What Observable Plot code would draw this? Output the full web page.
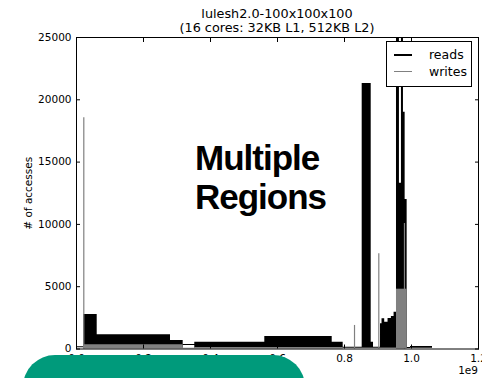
<!DOCTYPE html>
<html>
<head>
<meta charset="utf-8">
<script src="https://cdn.jsdelivr.net/npm/d3@7"></script>
<script src="https://cdn.jsdelivr.net/npm/@observablehq/plot@0.6"></script>
<style>
  html, body { margin: 0; padding: 0; background: #fff; }
  #chart { position: relative; width: 482px; height: 378px; overflow: hidden; font-family: "DejaVu Sans", sans-serif; color: #000; }
  #chart svg { position: absolute; left: 0; top: 0; }
  .title { position: absolute; left: 76px; width: 402px; top: 7px; text-align: center; font-size: 12.8px; line-height: 14px; white-space: nowrap; }
  .legend { position: absolute; left: 386px; top: 41px; width: 84px; height: 44px; border: 1px solid #000; background: #fff; }
  .legend .sw { position: absolute; left: 7px; width: 18px; }
  .legend .lab { position: absolute; left: 42px; font-size: 12.5px; line-height: 15px; white-space: nowrap; }
  .offset { position: absolute; right: 4px; top: 363px; font-size: 10.5px; line-height: 14px; }
  .note { position: absolute; left: 195px; font-family: "Liberation Sans", Arial, sans-serif; font-weight: bold; font-size: 35px; line-height: 35px; letter-spacing: -1px; white-space: nowrap; }
  .badge { position: absolute; left: 23px; top: 355px; width: 282px; height: 70px; border-radius: 32px; background: #009a7b; }
</style>
</head>
<body>
<div id="chart">
  <div class="title">lulesh2.0-100x100x100<br>(16 cores: 32KB L1, 512KB L2)</div>
</div>
<script>
// Access counts over time (x in units of 1e9 cycles). Dense oscillating
// traces are summarised as bands: [start, end) with a low and high count.
const readStart = [0.000, 0.0218, 0.0618, 0.2806, 0.3185, 0.3531, 0.5621, 0.7633, 0.7961, 0.8528, 0.8797, 0.8866,
                   0.9075, 0.9120, 0.9200, 0.9300, 0.9400, 0.9480, 0.9552, 0.9640, 0.9700, 0.9760, 0.9810, 0.9870, 0.9970];
const readEnd   = [0.0218, 0.0618, 0.2806, 0.3185, 0.3531, 0.5621, 0.7633, 0.7961, 0.8528, 0.8797, 0.8866, 0.9075,
                   0.9120, 0.9200, 0.9300, 0.9400, 0.9480, 0.9552, 0.9640, 0.9700, 0.9760, 0.9810, 0.9870, 0.9970, 1.0627];
const readLow   = [100, 60, 60, 60, 290, 60, 60, 60, 60, 60, 60, 60,
                   60, 60, 60, 60, 60, 60, 60, 60, 60, 60, 60, 40, 60];
const readHigh  = [180, 2770, 1140, 680, 370, 550, 1000, 550, 140, 21300, 550, 140,
                   2020, 2420, 2150, 2450, 2600, 2950, 25000, 13300, 25000, 19000, 12000, 120, 200];

const writeStart = [0.0218, 0.3185, 0.3531, 0.9552];
const writeEnd   = [0.3185, 0.3531, 0.7961, 0.9870];
const writeLow   = [0, 0, 0, 0];
const writeHigh  = [340, 60, 120, 4800];

// Isolated write bursts
const writeSpikeAt  = [0.0218, 0.8299, 0.9024, 0.9790];
const writeSpikeTop = [18550, 1890, 7640, 10070];

const xTicks = [0, 0.2, 0.4, 0.6, 0.8, 1.0, 1.2];
const yTicks = [0, 5000, 10000, 15000, 20000, 25000];

// Turn band segments into step-after area points; contiguous segments share
// one path (no seams), and a gap starts a new run.
function bandPoints(starts, ends, lows, highs) {
  const pts = [];
  let run = 0;
  starts.forEach((s, i) => {
    if (i > 0 && s !== ends[i - 1]) {
      pts.push({x: ends[i - 1], y1: lows[i - 1], y2: highs[i - 1], run});
      run++;
    }
    pts.push({x: s, y1: lows[i], y2: highs[i], run});
  });
  const n = starts.length - 1;
  pts.push({x: ends[n], y1: lows[n], y2: highs[n], run});
  return pts;
}

const reads = bandPoints(readStart, readEnd, readLow, readHigh);
const writes = bandPoints(writeStart, writeEnd, writeLow, writeHigh);
const spikes = writeSpikeAt.map((x, i) => ({x, top: writeSpikeTop[i]}));

const READ = "#000000", WRITE = "#808080";

const plot = Plot.plot({
  width: 482,
  height: 378,
  marginTop: 37,
  marginBottom: 29.5,
  marginLeft: 76,
  marginRight: 4,
  x: {domain: [0, 1.2]},
  y: {domain: [0, 25000]},
  style: {fontFamily: "DejaVu Sans", fontSize: "10.5px", color: "#000", background: "transparent"},
  marks: [
    Plot.areaY(reads, {x: "x", y1: "y1", y2: "y2", z: "run", curve: "step-after", fill: READ}),
    Plot.areaY(writes, {x: "x", y1: "y1", y2: "y2", z: "run", curve: "step-after", fill: WRITE}),
    Plot.ruleX(spikes, {x: "x", y1: 0, y2: "top", stroke: WRITE, strokeWidth: 1.2}),
    Plot.frame({stroke: "#000", strokeWidth: 1}),
    Plot.axisX(xTicks, {anchor: "bottom", tickSize: -4, tickPadding: 10, tickFormat: d3.format(".1f"), label: null}),
    Plot.axisX(xTicks, {anchor: "top", tickSize: -4, tickFormat: () => "", label: null}),
    Plot.axisY(yTicks, {anchor: "left", tickSize: -4, tickPadding: 9, tickFormat: d => String(d),
      label: "# of accesses", labelAnchor: "center", labelArrow: "none", labelOffset: 52}),
    Plot.axisY(yTicks, {anchor: "right", tickSize: -4, tickFormat: () => "", label: null})
  ]
});

const chart = document.getElementById("chart");
chart.insertBefore(plot, chart.firstChild);

chart.insertAdjacentHTML("beforeend", `
  <div class="note" style="top:139.7px">Multiple</div>
  <div class="note" style="top:178.7px">Regions</div>
  <div class="legend">
    <div class="sw" style="top:12px;height:1.6px;background:${READ}"></div>
    <div class="lab" style="top:5px">reads</div>
    <div class="sw" style="top:29px;height:1px;background:${WRITE}"></div>
    <div class="lab" style="top:22px">writes</div>
  </div>
  <div class="offset">1e9</div>
  <div class="badge"></div>
`);
</script>
</body>
</html>
